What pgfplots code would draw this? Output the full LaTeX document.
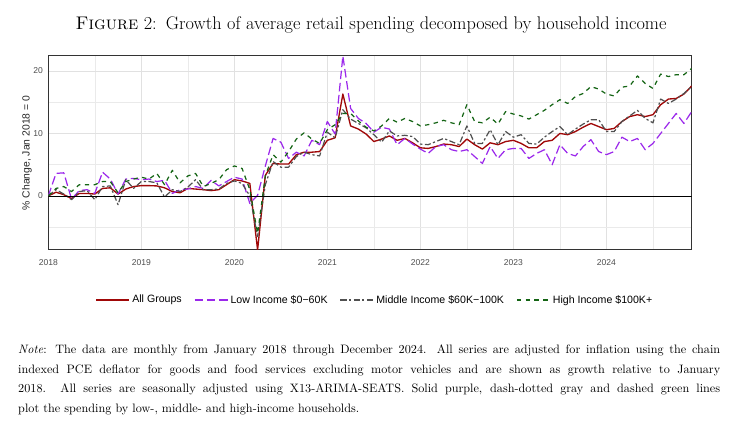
\documentclass[border=0pt]{standalone}
\usepackage{fontspec}
\usepackage{pgfplots}
\pgfplotsset{compat=1.18}
\newfontfamily\axfont{Liberation Sans}
\definecolor{cred}{RGB}{160,8,8}
\definecolor{cpurple}{RGB}{155,40,235}
\definecolor{cgray}{RGB}{80,80,80}
\definecolor{cgreen}{RGB}{20,100,20}
\definecolor{ctick}{RGB}{77,77,77}
\definecolor{cframe}{RGB}{51,51,51}
\definecolor{cgrid}{RGB}{225,225,225}
\begin{document}
\begin{tikzpicture}[x=0.82pt,y=0.82pt]
\useasboundingbox (0,0) rectangle (736,439);
\node[anchor=base,inner sep=0] at (371,409) {\fontsize{15}{18}\selectfont\textsc{Figure} 2:\enspace Growth of average retail spending decomposed by household income};
\begin{axis}[
  at={(39.6pt,155pt)}, anchor=south west,
  scale only axis, width=527.6pt, height=159.1pt,
  xmin=0, xmax=83, ymin=-8.65, ymax=22.4,
  xtick={0,12,24,36,48,60,72},
  xticklabels={2018,2019,2020,2021,2022,2023,2024},
  minor xtick={6,18,30,42,54,66,78},
  ytick={0,10,20}, minor ytick={-5,5,15},
  grid=both,
  major grid style={cgrid, line width=0.5pt},
  minor grid style={cgrid!70, line width=0.4pt},
  major tick length=0pt, minor tick length=0pt,
  axis line style={cframe, line width=0.8pt},
  /pgf/number format/assume math mode=true,
  tick label style={font=\axfont\fontsize{7}{8}\selectfont, text=ctick},
  xticklabel style={yshift=-4pt},
  yticklabel style={xshift=-1pt},
  ylabel={\% Change, Jan 2018 = 0},
  ylabel style={font=\axfont\fontsize{8.5}{10}\selectfont, text=black!85, at={(axis description cs:-0.0331,0.5)}, anchor=center},
  legend style={at={(0.508,-0.258)}, anchor=center, draw=none, fill=none,
    font=\axfont\fontsize{8.7}{10}\selectfont, legend columns=4,
    /tikz/every even column/.append style={column sep=8pt}},
  legend image code/.code={\draw[#1] (0pt,0pt) -- (27pt,0pt);},
  every axis plot/.append style={line join=round},
]
\addplot[cred, line width=1.1pt] coordinates {
(0,0) (1,0.6) (2,0.2) (3,-0.4) (4,0.4) (5,0.4) (6,0.3) (7,1.2) (8,1.3) (9,0.3) (10,1.1) (11,1.5)
(12,1.65) (13,1.65) (14,1.6) (15,1.3) (16,0.7) (17,0.5) (18,1.2) (19,1.1) (20,1.0) (21,0.85) (22,1.0) (23,1.8)
(24,2.6) (25,2.4) (26,2.0) (27,-8.65) (28,3.3) (29,5.2) (30,5.1) (31,5.1) (32,6.6) (33,7.0) (34,7.0) (35,7.1)
(36,8.9) (37,9.3) (38,16.3) (39,11.2) (40,10.7) (41,9.9) (42,8.7) (43,9.1) (44,9.6) (45,8.9) (46,9.2) (47,8.5)
(48,7.7) (49,7.6) (50,7.9) (51,8.3) (52,8.2) (53,7.9) (54,9.1) (55,8.2) (56,7.5) (57,8.5) (58,8.2) (59,8.7)
(60,8.9) (61,8.4) (62,7.7) (63,7.7) (64,8.7) (65,8.9) (66,10.0) (67,9.8) (68,10.3) (69,11.0) (70,11.6) (71,11.1)
(72,10.6) (73,10.8) (74,11.9) (75,12.7) (76,13.0) (77,12.7) (78,13.0) (79,14.6) (80,15.5) (81,15.6) (82,16.3) (83,17.6)
};
\addlegendentry{All Groups}
\addplot[cpurple, line width=1pt, dash pattern=on 7pt off 3pt] coordinates {
(0,0) (1,3.6) (2,3.7) (3,-0.5) (4,0.85) (5,1.0) (6,0.4) (7,3.8) (8,2.7) (9,0.3) (10,2.7) (11,2.8)
(12,2.6) (13,2.7) (14,2.3) (15,2.5) (16,0.4) (17,1.0) (18,1.1) (19,1.5) (20,1.2) (21,2.5) (22,1.6) (23,2.3)
(24,3.0) (25,2.7) (26,-1.2) (27,0.1) (28,4.8) (29,9.2) (30,8.6) (31,6.0) (32,7.0) (33,6.4) (34,8.9) (35,8.2)
(36,11.9) (37,9.9) (38,22.4) (39,14.0) (40,12.4) (41,11.6) (42,10.2) (43,11.0) (44,10.7) (45,8.2) (46,9.2) (47,8.3)
(48,7.5) (49,6.8) (50,7.9) (51,8.2) (52,7.4) (53,7.1) (54,7.4) (55,6.3) (56,5.2) (57,7.9) (58,6.0) (59,7.4)
(60,7.6) (61,7.6) (62,6.0) (63,6.8) (64,7.4) (65,5.0) (66,8.2) (67,6.8) (68,6.4) (69,7.9) (70,9.0) (71,7.1)
(72,6.6) (73,7.1) (74,9.4) (75,8.7) (76,9.2) (77,7.4) (78,8.4) (79,10.0) (80,11.6) (81,13.2) (82,11.6) (83,13.5)
};
\addlegendentry{Low Income \$0\textminus60K}
\addplot[cgray, line width=1pt, dash pattern=on 5pt off 2pt on 1.8pt off 2pt] coordinates {
(0,0) (1,1.0) (2,0.3) (3,-0.6) (4,0.7) (5,0.85) (6,-0.6) (7,1.5) (8,1.6) (9,-1.4) (10,2.6) (11,1.2)
(12,2.3) (13,2.3) (14,2.1) (15,-0.2) (16,1.0) (17,0.7) (18,1.4) (19,2.6) (20,1.0) (21,1.0) (22,1.1) (23,2.0)
(24,2.4) (25,2.0) (26,0.0) (27,-6.5) (28,1.8) (29,5.5) (30,4.6) (31,4.6) (32,6.3) (33,7.0) (34,6.6) (35,6.4)
(36,10.2) (37,9.3) (38,13.8) (39,12.3) (40,11.6) (41,10.9) (42,9.8) (43,8.6) (44,10.4) (45,9.6) (46,9.7) (47,9.5)
(48,8.3) (49,8.2) (50,8.7) (51,9.2) (52,8.7) (53,8.2) (54,11.2) (55,8.4) (56,8.4) (57,10.6) (58,8.2) (59,10.3)
(60,9.4) (61,9.8) (62,8.4) (63,8.3) (64,9.4) (65,10.3) (66,11.1) (67,9.8) (68,10.7) (69,11.5) (70,12.2) (71,12.2)
(72,10.3) (73,10.3) (74,11.9) (75,12.8) (76,13.7) (77,12.4) (78,11.7) (79,15.5) (80,14.8) (81,15.5) (82,16.4) (83,17.5)
};
\addlegendentry{Middle Income \$60K\textminus100K}
\addplot[cgreen, line width=1pt, dash pattern=on 3.6pt off 3.6pt] coordinates {
(0,0) (1,1.2) (2,1.5) (3,0.7) (4,1.8) (5,1.8) (6,1.8) (7,2.3) (8,2.3) (9,0.5) (10,2.3) (11,2.7)
(12,3.0) (13,2.7) (14,3.6) (15,1.8) (16,4.1) (17,2.1) (18,3.2) (19,3.6) (20,1.5) (21,2.0) (22,2.6) (23,4.2)
(24,4.8) (25,4.4) (26,1.0) (27,-6.0) (28,3.2) (29,6.6) (30,5.4) (31,7.1) (32,9.1) (33,10.1) (34,9.1) (35,8.4)
(36,10.6) (37,11.4) (38,13.2) (39,13.2) (40,12.0) (41,11.0) (42,10.4) (43,11.2) (44,12.4) (45,11.8) (46,12.4) (47,11.9)
(48,11.2) (49,11.4) (50,11.7) (51,12.1) (52,11.7) (53,11.4) (54,14.6) (55,11.9) (56,11.7) (57,12.6) (58,11.5) (59,13.5)
(60,13.1) (61,12.8) (62,12.3) (63,13.0) (64,13.7) (65,14.6) (66,15.4) (67,14.8) (68,15.9) (69,16.4) (70,17.5) (71,17.1)
(72,16.3) (73,16.0) (74,17.4) (75,17.6) (76,19.2) (77,18.0) (78,17.2) (79,19.5) (80,19.1) (81,19.4) (82,19.4) (83,20.4)
};
\addlegendentry{High Income \$100K+}
\addplot[black, line width=0.6pt, forget plot] coordinates {(0,0) (83,0)};
\end{axis}
\node[anchor=base west,inner sep=0] at (18,85.7) {\parbox[t]{575.6pt}{\fontsize{10}{16.2}\selectfont\textit{Note}: The data are monthly from January 2018 through December 2024. All series are adjusted for inflation using the chain\linebreak indexed PCE deflator for goods and food services excluding motor vehicles and are shown as growth relative to January\linebreak 2018. All series are seasonally adjusted using X13-ARIMA-SEATS. Solid purple, dash-dotted gray and dashed green lines\linebreak plot the spending by low-, middle- and high-income households.}};
\end{tikzpicture}
\end{document}
